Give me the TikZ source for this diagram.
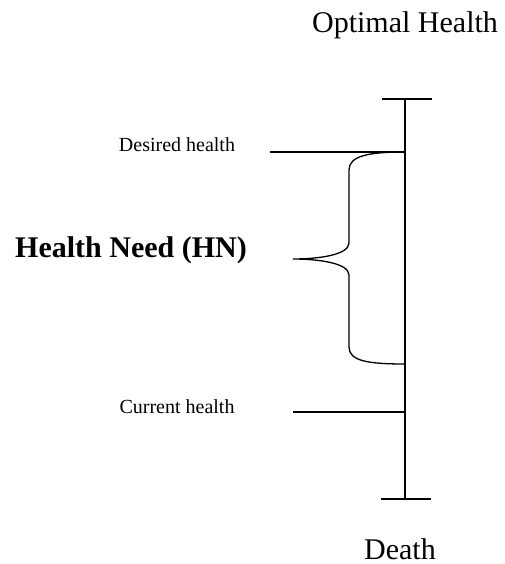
\documentclass[tikz,border=0pt]{standalone}
\usepackage{fontspec}
\setmainfont{Liberation Serif}
\usepackage{tikz}
\usepackage{xcolor}

\begin{document}
\begin{tikzpicture}[x=1pt, y=-1pt, line width=1.6pt]
                \useasboundingbox (0, 0) rectangle (505, 564);
                \node[anchor=base, inner sep=0pt] (opt) at (405, 33) {\fontsize{30}{36}\selectfont Optimal Health};
                \node[anchor=base, inner sep=0pt] (death) at (400, 559) {\fontsize{30}{36}\selectfont Death};
                \node[anchor=base, inner sep=0pt] (destext) at (177, 152) {\fontsize{20}{24}\selectfont Desired health};
                \node[anchor=base, inner sep=0pt] (curtext) at (177, 413) {\fontsize{20}{24}\selectfont Current health};
                \node[anchor=base, inner sep=0pt] (hn) at (131, 257) {\fontsize{30}{36}\selectfont\bfseries Health Need (HN)};

                \coordinate (top) at (405, 99);
                \coordinate (topl) at (382, 99);
                \coordinate (topr) at (432, 99);
                \coordinate (bot) at (405, 499);
                \coordinate (botl) at (381, 499);
                \coordinate (botr) at (431, 499);
                \coordinate (des) at (405, 152);
                \coordinate (desl) at (270, 152);
                \coordinate (cur) at (405, 412);
                \coordinate (curl) at (293, 412);
                \coordinate (hnb) at (405, 364);
                \coordinate (tip) at (293, 259);

                \draw
                (top) -- (bot)
                (topl) -- (topr)
                (botl) -- (botr)
                (desl) -- (des)
                (curl) -- (cur);

                \draw[line width=1.3pt]
                (des) .. controls (368, 152) and (349, 156) .. (349, 170)
                -- (349, 243) .. controls (349, 255) and (318, 259) .. (tip)
                .. controls (318, 259) and (349, 263) .. (349, 275)
                -- (349, 347) .. controls (349, 361) and (368, 364) .. (hnb);
            \end{tikzpicture}
\end{document}
